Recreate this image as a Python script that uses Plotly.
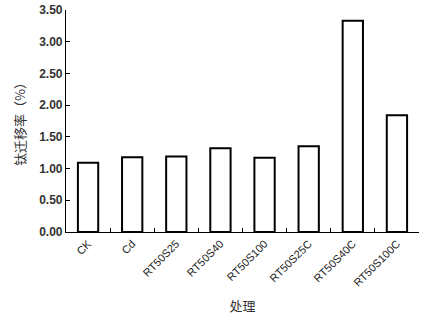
import plotly.graph_objects as go

categories = ["CK", "Cd", "RT50S25", "RT50S40", "RT50S100", "RT50S25C", "RT50S40C", "RT50S100C"]
values = [1.09, 1.18, 1.19, 1.32, 1.17, 1.35, 3.33, 1.84]
y_ticks = [0, 0.5, 1.0, 1.5, 2.0, 2.5, 3.0, 3.5]
y_tick_labels = ["0.00", "0.50", "1.00", "1.50", "2.00", "2.50", "3.00", "3.50"]

fig = go.Figure(go.Bar(
    x=categories, y=values,
    marker=dict(color="white", line=dict(color="black", width=2)),
    width=0.46,
))

font_family = "Liberation Sans, Noto Sans CJK SC, sans-serif"
fig.update_layout(
    width=425, height=319,
    margin=dict(l=66, r=6, t=10, b=87),
    paper_bgcolor="white", plot_bgcolor="white",
    showlegend=False,
    font=dict(family=font_family, color="#222"),
)
fig.update_xaxes(
    automargin=False,
    showline=True, linecolor="black", linewidth=1.2,
    ticks="inside", ticklen=4, tickcolor="black", tickson="boundaries",
    tickangle=-45, tickfont=dict(size=11, color="#222"),
    title=dict(text="处理", font=dict(size=13, family="Noto Sans CJK SC", color="#333"), standoff=14),
    showgrid=False,
)
fig.update_yaxes(
    automargin=False,
    range=[0, 3.5], tickvals=y_ticks, ticktext=["<b>%s</b>" % t for t in y_tick_labels],
    showline=True, linecolor="black", linewidth=1.2,
    ticks="inside", ticklen=4, tickcolor="black",
    tickfont=dict(size=12, color="#333", family="Liberation Sans"),
    title=dict(text="钛迁移率（%）", font=dict(size=13, family="Noto Sans CJK SC", color="#333"), standoff=10),
    showgrid=False, zeroline=False,
)
fig.update_traces(cliponaxis=False)
fig.write_html("out.html", post_script="document.body.style.margin='0';",
               config={"displayModeBar": False})
